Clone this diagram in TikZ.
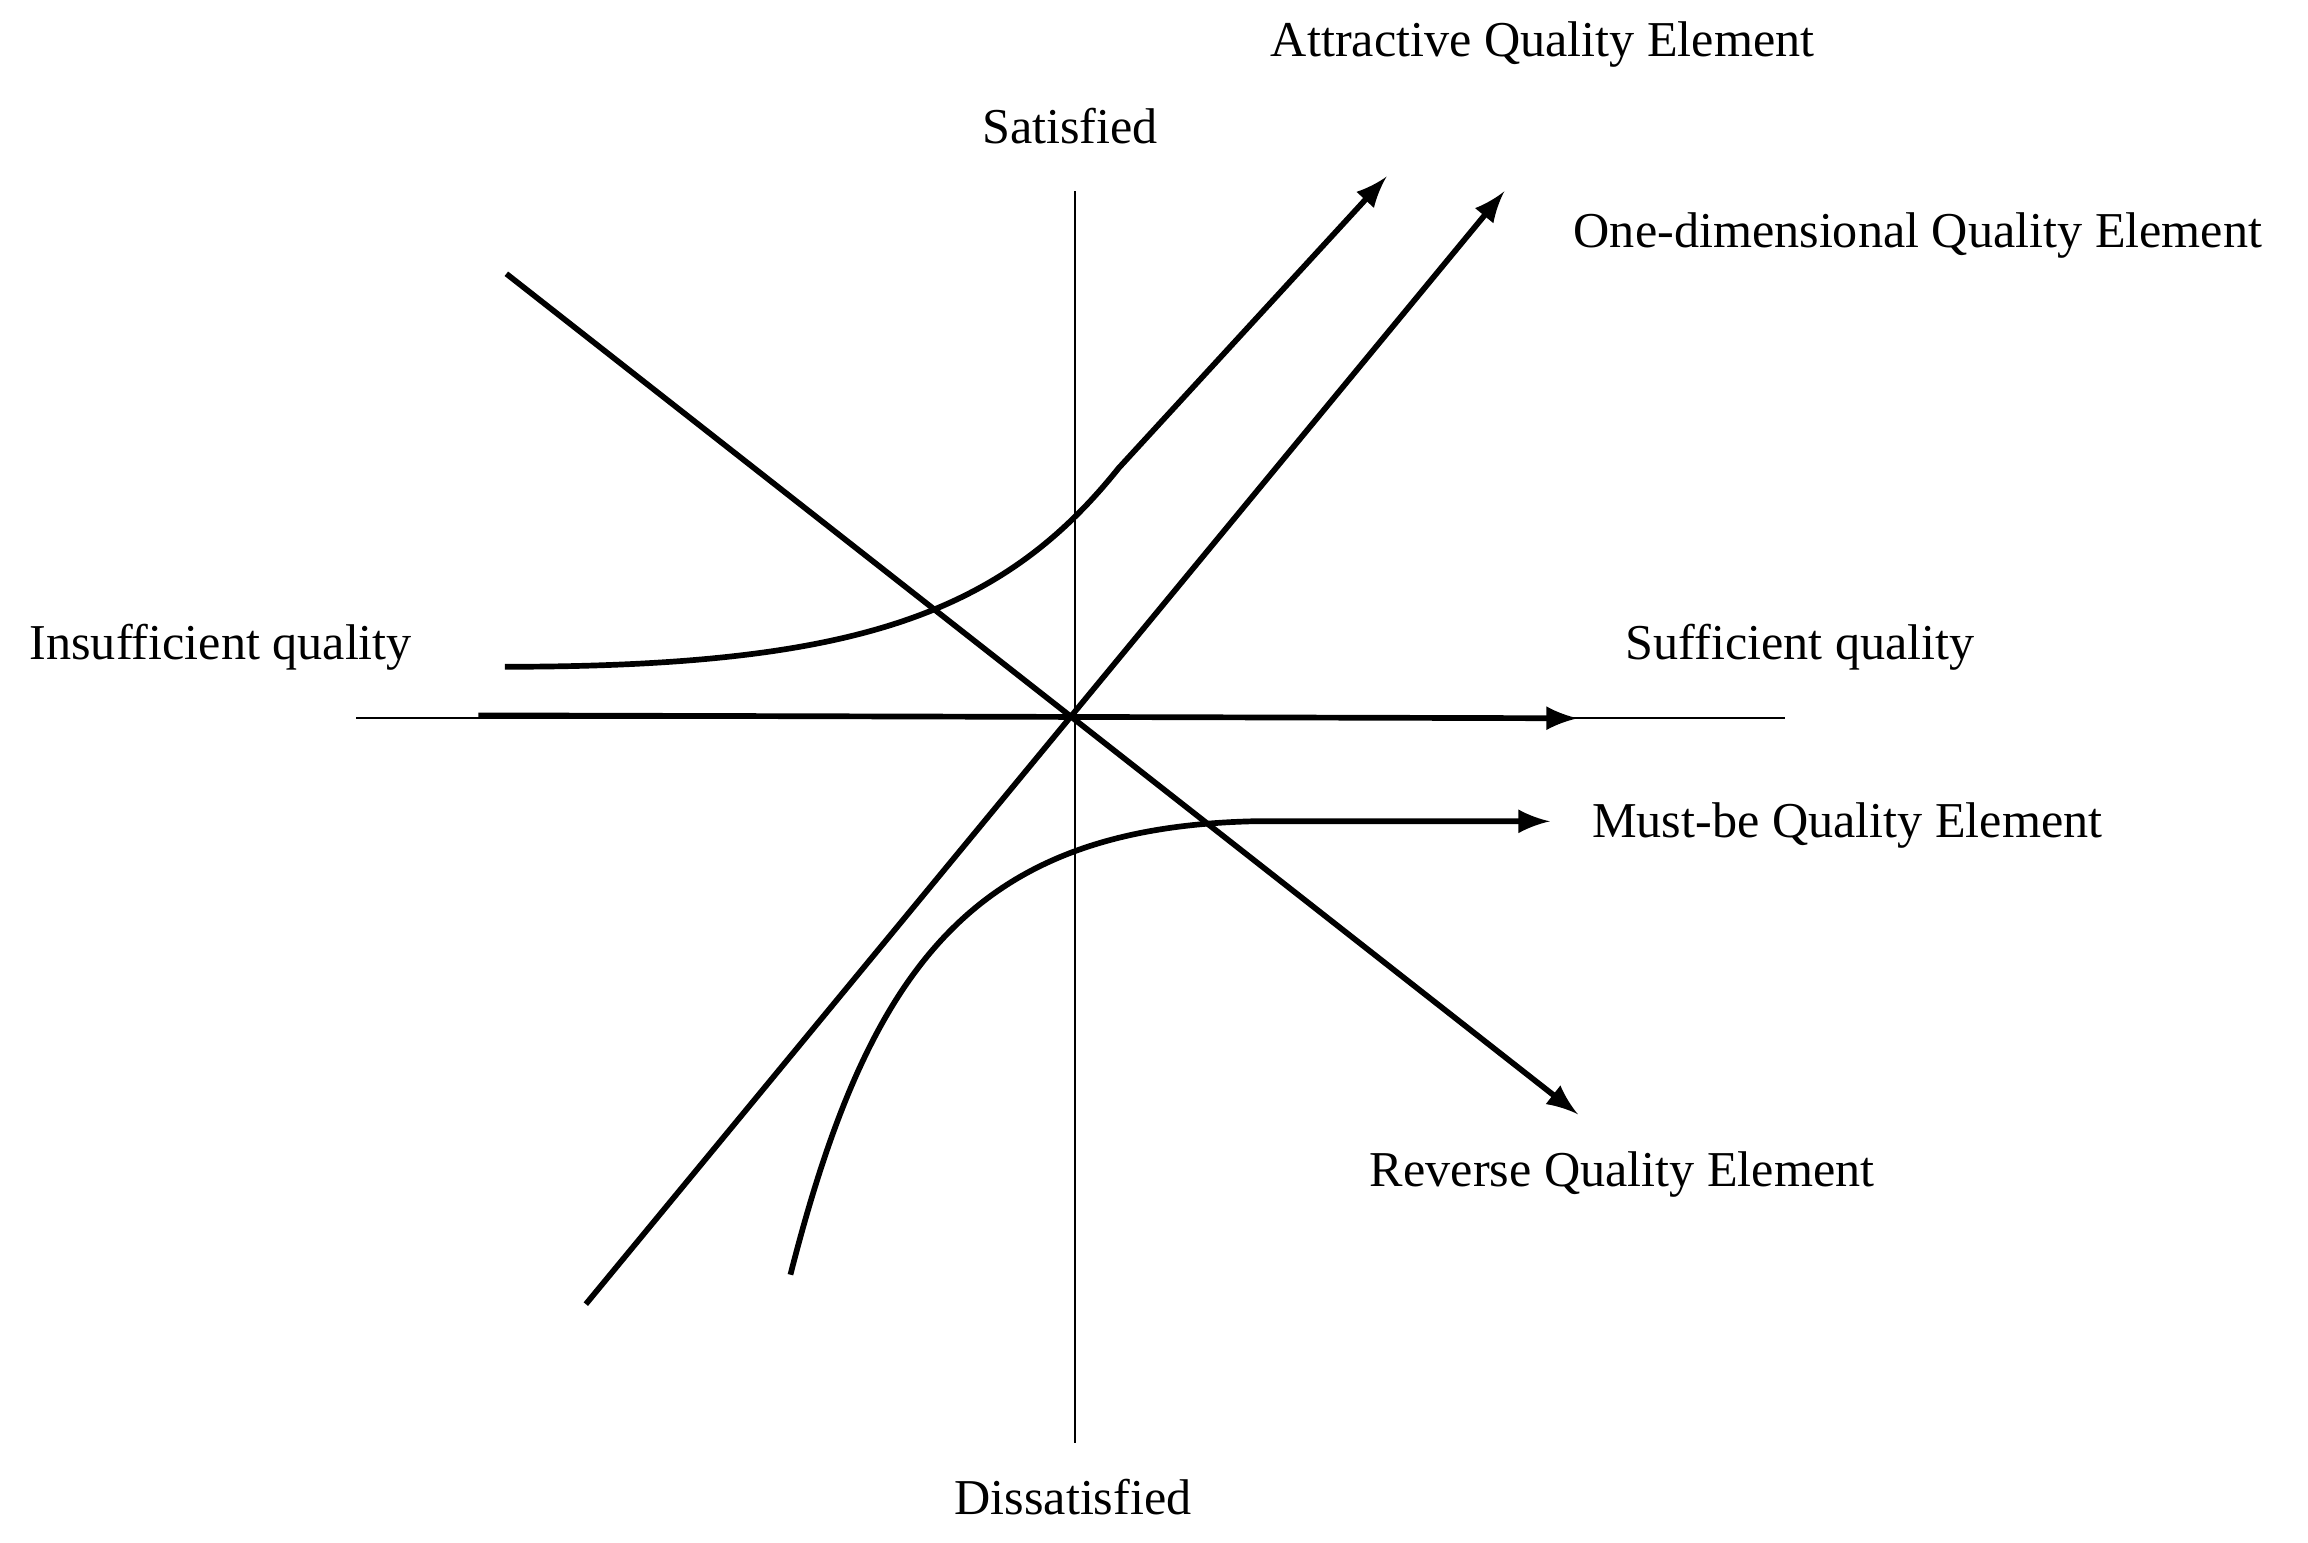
\documentclass[tikz,border=0pt]{standalone}
\usepackage{fontspec}
\setmainfont{Liberation Serif}
\begin{document}
\begin{tikzpicture}[thick, x=1cm, y=1cm,
    lbl/.style={inner sep=0pt, font=\fontsize{9.7}{11}\selectfont},
    curve/.style={line width=1.1pt, -latex}]
		\useasboundingbox (0,0) rectangle (15.68,10.48);
		\coordinate (O) at (7.30,5.60);
		\coordinate (top) at (7.30,9.18);
		\coordinate (bot) at (7.30,0.68);
		\coordinate (left) at (2.42,5.60);
		\coordinate (right) at (12.13,5.60);
		\draw[thin] (top) -- (bot);
		\draw[thin] (left) -- (right);

		\node (sat) [lbl] at (7.27,9.62) {Satisfied};
		\node (dis) [lbl] at (7.29,0.31) {Dissatisfied};
		\node (insuf) [lbl] at (1.50,6.08) {Insufficient quality};
		\node (suf) [lbl] at (12.23,6.08) {Sufficient quality};
		\node (attr) [lbl] at (10.48,10.18) {Attractive Quality Element};
		\node (one) [lbl] at (13.03,8.88) {One-dimensional Quality Element};
		\node (must) [lbl] at (12.55,4.87) {Must-be Quality Element};
		\node (rev) [lbl] at (11.02,2.50) {Reverse Quality Element};

		% indifferent
		\coordinate (i0) at (3.25,5.62);
		\coordinate (i1) at (10.72,5.60);
		\draw[curve] (i0) -- (i1);
		% one-dimensional
		\coordinate (o0) at (3.98,1.62);
		\coordinate (o1) at (10.22,9.18);
		\draw[curve] (o0) -- (o1);
		% reverse
		\coordinate (r0) at (3.44,8.62);
		\coordinate (r1) at (10.72,2.91);
		\draw[curve] (r0) -- (r1);
		% attractive
		\coordinate (a0) at (3.43,5.95);
		\coordinate (a1) at (9.42,9.28);
		\draw[curve] (a0) .. controls (5.8,5.95) and (6.8,6.3) .. (7.6,7.3) -- (a1);
		% must-be
		\coordinate (m0) at (5.37,1.82);
		\coordinate (m1) at (10.53,4.90);
		\draw[curve] (m0) .. controls (5.9,3.9) and (6.6,4.85) .. (8.5,4.9) -- (m1);
\end{tikzpicture}
\end{document}
